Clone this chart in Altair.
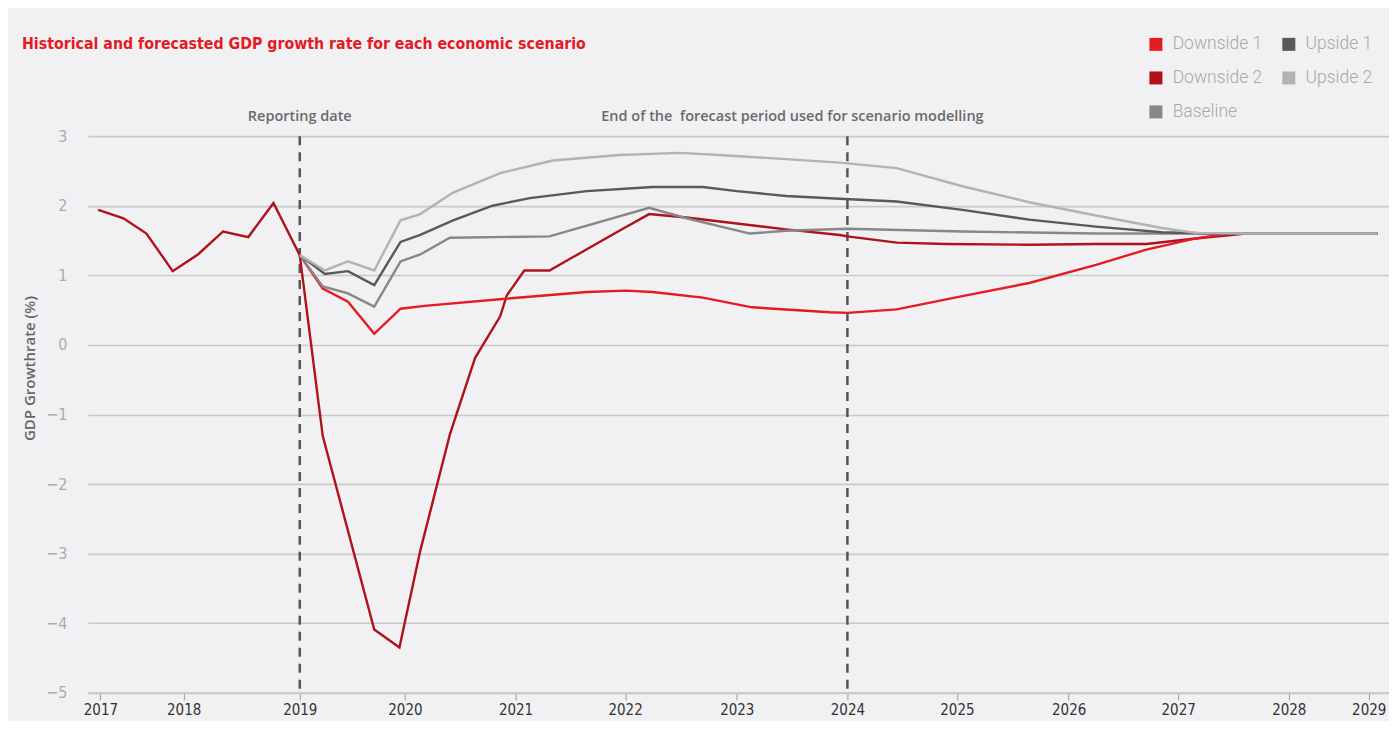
import altair as alt
import pandas as pd

# ---- data (decimal years, GDP growth %) ----
hist_x = [2017.16, 2017.39, 2017.60, 2017.84, 2018.07, 2018.30, 2018.53, 2018.76, 2019.00]
hist_y = [1.94, 1.82, 1.60, 1.06, 1.30, 1.63, 1.55, 2.04, 1.29]

down2_x = [2019.00, 2019.21, 2019.68, 2019.91, 2020.10, 2020.37, 2020.60, 2020.83, 2020.89,
           2021.05, 2021.28, 2021.46, 2021.95, 2022.19, 2022.53, 2023.44, 2023.93, 2024.00,
           2024.45, 2024.90, 2025.66, 2026.27, 2026.73, 2027.18, 2027.64, 2028.84]
down2_y = [1.29, -1.31, -4.09, -4.35, -2.96, -1.29, -0.19, 0.41, 0.71,
           1.07, 1.07, 1.23, 1.67, 1.88, 1.83, 1.66, 1.58, 1.56,
           1.47, 1.45, 1.44, 1.45, 1.45, 1.53, 1.60, 1.60]

down1_x = [2019.00, 2019.21, 2019.44, 2019.68, 2019.92, 2020.14, 2020.85, 2021.62, 2021.98,
           2022.22, 2022.68, 2023.13, 2023.84, 2024.00, 2024.45, 2025.05, 2025.66, 2026.27,
           2026.73, 2027.18, 2027.49, 2028.84]
down1_y = [1.29, 0.81, 0.62, 0.16, 0.52, 0.56, 0.66, 0.76, 0.78,
           0.76, 0.68, 0.54, 0.47, 0.46, 0.51, 0.70, 0.89, 1.15,
           1.37, 1.53, 1.60, 1.60]

base_x = [2019.00, 2019.21, 2019.44, 2019.68, 2019.92, 2020.10, 2020.37, 2021.28, 2022.19,
          2022.53, 2023.11, 2023.44, 2024.00, 2025.05, 2026.27, 2027.33, 2028.84]
base_y = [1.29, 0.84, 0.74, 0.55, 1.20, 1.30, 1.54, 1.56, 1.97,
          1.82, 1.60, 1.64, 1.67, 1.63, 1.60, 1.60, 1.60]

up1_x = [2019.00, 2019.23, 2019.44, 2019.68, 2019.92, 2020.10, 2020.40, 2020.76, 2021.10,
         2021.62, 2022.22, 2022.68, 2022.99, 2023.44, 2023.93, 2024.45, 2025.05, 2025.66,
         2026.27, 2026.87, 2027.33, 2028.84]
up1_y = [1.29, 1.02, 1.06, 0.86, 1.48, 1.58, 1.79, 2.00, 2.11,
         2.21, 2.27, 2.27, 2.21, 2.14, 2.10, 2.06, 1.94, 1.80,
         1.70, 1.62, 1.60, 1.60]

up2_x = [2019.00, 2019.23, 2019.44, 2019.68, 2019.92, 2020.10, 2020.40, 2020.83, 2021.31,
         2021.92, 2022.47, 2022.83, 2023.44, 2023.93, 2024.45, 2025.05, 2025.66, 2026.27,
         2026.87, 2027.18, 2027.64, 2028.84]
up2_y = [1.29, 1.07, 1.20, 1.07, 1.79, 1.88, 2.19, 2.47, 2.65,
         2.73, 2.76, 2.73, 2.67, 2.62, 2.54, 2.28, 2.05, 1.86,
         1.68, 1.61, 1.60, 1.60]

# legend is filled column by column: (D1, D2, Baseline) | (U1, U2)
series_names = ["Downside 1", "Downside 2", "Baseline", "Upside 1", "Upside 2"]
series_colors = ["#e31b23", "#b0121b", "#878787", "#595959", "#b3b3b3"]

marker_years = [2019, 2024]
marker_texts = ["Reporting date", "End of the\u00a0 forecast period used for scenario modelling"]

tick_positions = [2017.18, 2017.94, 2019.0, 2019.96, 2020.97, 2021.97, 2022.99, 2024.0,
                  2025.0, 2026.02, 2027.02, 2028.03, 2028.76]
y_ticks = [-5, -4, -3, -2, -1, 0, 1, 2, 3]

title_text = "Historical and forecasted GDP growth rate for each economic scenario"
y_title = "GDP Growthrate (%)"

# ---- build long table ----
rows = []
def add(name, xs, ys):
    for x, y in zip(xs, ys):
        rows.append({"series": name, "year": x, "value": y, "order": len(rows)})

add("Downside 2", hist_x + down2_x[1:], hist_y + down2_y[1:])
add("Downside 1", down1_x, down1_y)
add("Baseline", base_x, base_y)
add("Upside 1", up1_x, up1_y)
add("Upside 2", up2_x, up2_y)
df = pd.DataFrame(rows)

W, H = 1302, 557
xscale = alt.Scale(domain=[2017.066, 2028.945], nice=False, zero=False)
yscale = alt.Scale(domain=[-5, 3], nice=False, zero=False)
cscale = alt.Scale(domain=series_names, range=series_colors)

COND = "DejaVu Sans Condensed"

x_axis = alt.Axis(values=tick_positions, labelExpr="round(datum.value) + ''",
                  title=None, grid=False, domain=True, domainColor="#c9c9c9", domainWidth=2,
                  ticks=True, tickColor="#9a9a9a", tickSize=7, tickWidth=1,
                  labelColor="#333333", labelFont=COND, labelFontSize=15,
                  labelPadding=3, labelOverlap=False, labelFlush=False)
y_axis = alt.Axis(values=y_ticks, format="d", title=y_title, grid=True, gridColor="#c9c9c9",
                  gridWidth=1.6, domain=False, ticks=False, labelPadding=21,
                  labelColor="#ababab", labelFont=COND, labelFontWeight=300, labelFontSize=16,
                  titleColor="#666666", titleFont="Open Sans", titleFontWeight=600,
                  titleFontSize=15, titleX=-50, titleY=232)

legend = alt.Legend(title=None, orient="none", legendX=1060, legendY=-101,
                    columns=2, direction="vertical",
                    symbolType="square", symbolSize=169, symbolStrokeWidth=0,
                    symbolOpacity=1,
                    labelFontSize=17.5, labelFont="Roboto",
                    labelFontWeight=300, labelColor="#a8a8a8",
                    rowPadding=15, columnPadding=17, labelOffset=8)

base = alt.Chart(df).encode(
    x=alt.X("year:Q", scale=xscale, axis=x_axis),
    y=alt.Y("value:Q", scale=yscale, axis=y_axis),
    color=alt.Color("series:N", scale=cscale, legend=legend),
)

# tiny filled squares (hidden under the lines) so the shared legend shows filled squares
squares = base.mark_square(size=1, filled=True, opacity=1)

lines = base.mark_line(strokeWidth=2.4).encode(order="order:Q")

mk = pd.DataFrame({"year": marker_years, "text": marker_texts})
rules = alt.Chart(mk).mark_rule(color="#555555", strokeWidth=2.5, strokeDash=[9, 7]).encode(
    x=alt.X("year:Q", scale=xscale),
    y=alt.datum(3),
    y2=alt.datum(-5),
)

ann1 = alt.Chart(mk.iloc[[0]]).mark_text(font="Open Sans", fontWeight=600, fontSize=14.5,
                                          color="#6a6a6a", align="center", baseline="middle").encode(
    x=alt.X("year:Q", scale=xscale), y=alt.value(-19), text="text:N")
ann2 = alt.Chart(mk.iloc[[1]]).mark_text(font="Open Sans", fontWeight=600, fontSize=14.5,
                                          color="#6a6a6a", align="center", baseline="middle",
                                          dx=-55).encode(
    x=alt.X("year:Q", scale=xscale), y=alt.value(-19), text="text:N")

title = alt.Chart(pd.DataFrame({"t": [title_text]})).mark_text(
    font=COND, fontWeight="bold", fontSize=15.8, color="#e31b23",
    align="left", baseline="middle").encode(
    x=alt.value(-66), y=alt.value(-92), text="t:N")

chart = alt.layer(rules, squares, lines, ann1, ann2, title).properties(
    width=W, height=H,
    autosize=alt.AutoSizeParams(type="none"),
    padding={"left": 80, "top": 128, "right": 0, "bottom": 28},
).configure(background="#f1f1f3").configure_view(stroke=None)

chart.save("out.html", embed_options={"renderer": "svg", "actions": False})
